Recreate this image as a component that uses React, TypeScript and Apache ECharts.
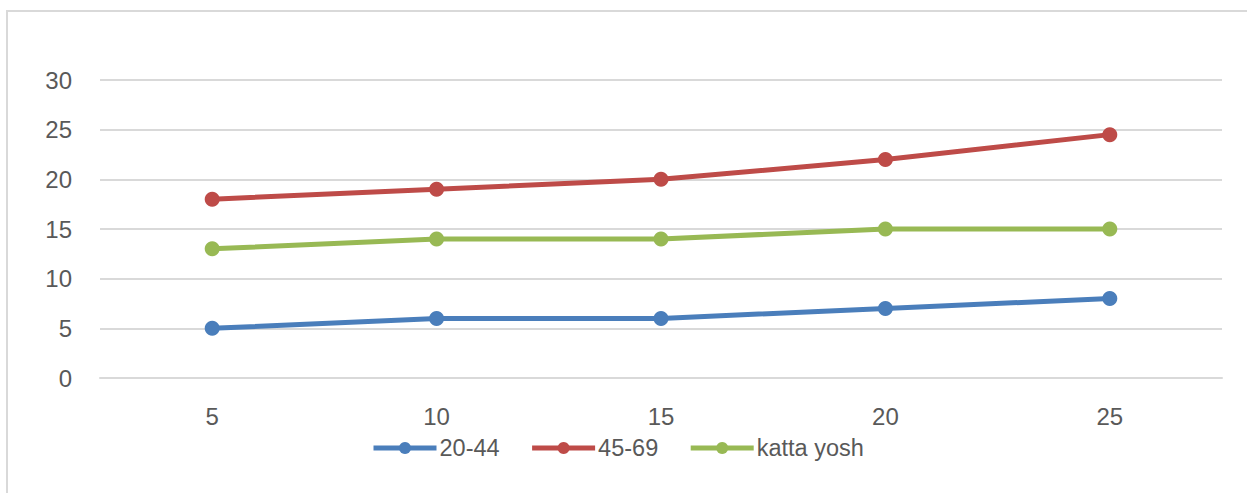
import React, { useEffect, useRef } from "react";
import * as echarts from "echarts";

const categories = ["5", "10", "15", "20", "25"];
const seriesNames = ["20-44", "45-69", "katta yosh"];
const values2044 = [5, 6, 6, 7, 8];
const values4569 = [18, 19, 20, 22, 24.5];
const valuesKatta = [13, 14, 14, 15, 15];
const colors = ["#4A7EBB", "#BE4B48", "#98B954"];

export default function App() {
  const ref = useRef<HTMLDivElement>(null);
  useEffect(() => {
    if (!ref.current) return;
    const chart = echarts.init(ref.current, null, { renderer: "svg" });
    const font = "'Liberation Sans', Arial, sans-serif";
    const mk = (name: string, data: number[], color: string) => ({
      name,
      type: "line",
      data,
      symbol: "circle",
      symbolSize: 15,
      lineStyle: { width: 5, color },
      itemStyle: { color, borderWidth: 0 },
      z: 3,
    });
    chart.setOption({
      animation: false,
      backgroundColor: "#ffffff",
      color: colors,
      textStyle: { fontFamily: font },
      grid: { left: 100, right: 25, top: 80, bottom: 115 },
      graphic: [
        {
          type: "polyline",
          shape: { points: [[7, 493], [7, 11], [1247, 11]] },
          style: { stroke: "#d9d9d9", lineWidth: 2, fill: "none" },
          silent: true,
        },
      ],
      legend: {
        bottom: 28,
        left: 366,
        itemWidth: 63,
        itemHeight: 15,
        itemGap: 30,
        lineStyle: { width: 5 },
        itemStyle: { borderWidth: 0 },
        textStyle: { fontSize: 23.5, color: "#595959", fontFamily: font, padding: [0, 0, 0, -2] },
        data: seriesNames,
      },
      xAxis: {
        type: "category",
        data: categories,
        boundaryGap: true,
        axisLine: { show: true, lineStyle: { color: "#d9d9d9", width: 2 } },
        axisTick: { show: false },
        axisLabel: { fontSize: 24, color: "#595959", margin: 26, fontFamily: font },
      },
      yAxis: {
        type: "value",
        min: 0,
        max: 30,
        interval: 5,
        axisLine: { show: false },
        axisTick: { show: false },
        splitLine: { lineStyle: { color: "#d9d9d9", width: 2 } },
        axisLabel: { fontSize: 24, color: "#595959", margin: 28, fontFamily: font },
      },
      series: [
        mk(seriesNames[0], values2044, colors[0]),
        mk(seriesNames[1], values4569, colors[1]),
        mk(seriesNames[2], valuesKatta, colors[2]),
      ],
    });
    return () => chart.dispose();
  }, []);
  return (
    <div
      ref={ref}
      style={{ position: "absolute", left: 0, top: 0, width: 1247, height: 493 }}
    />
  );
}
